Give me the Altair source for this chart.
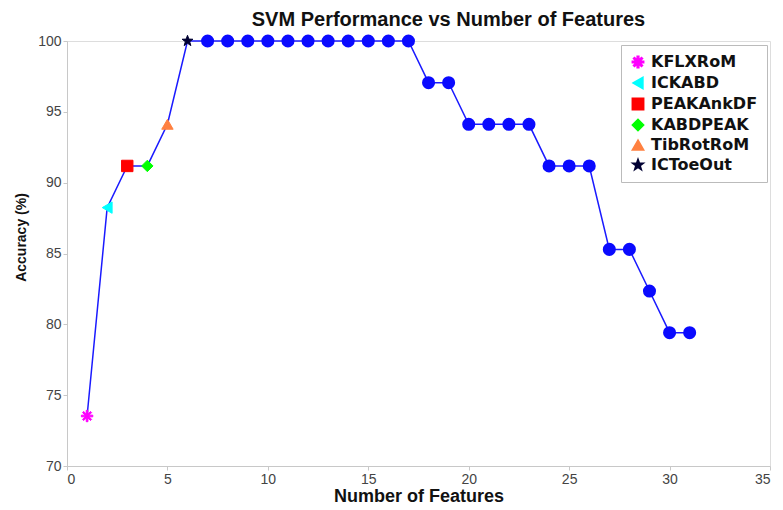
import altair as alt
import pandas as pd

features = list(range(1, 32))
accuracy = [73.53, 88.24, 91.18, 91.18, 94.12, 100.0,
            100.0, 100.0, 100.0, 100.0, 100.0, 100.0, 100.0, 100.0, 100.0, 100.0, 100.0,
            97.06, 97.06,
            94.12, 94.12, 94.12, 94.12,
            91.18, 91.18, 91.18,
            85.29, 85.29, 82.35, 79.41, 79.41]
feature_names = ["KFLXRoM", "ICKABD", "PEAKAnkDF", "KABDPEAK", "TibRotRoM", "ICToeOut"]
name_colors = ["#ff00ff", "#00ffff", "#ff0000", "#00ff00", "#ff8040", "#000033"]
asterisk = "M-1,-0.15L1,-0.15L1,0.15L-1,0.15Z M-0.15,-1L0.15,-1L0.15,1L-0.15,1Z M-0.8,-0.6L-0.6,-0.8L0.8,0.6L0.6,0.8Z M0.8,-0.6L0.6,-0.8L-0.8,0.6L-0.6,0.8Z"
name_shapes = [asterisk, "triangle-left", "square", "diamond", "triangle-up", "M0,-1L0.24,-0.33L0.95,-0.31L0.38,0.12L0.59,0.81L0,0.4L-0.59,0.81L-0.38,0.12L-0.95,-0.31L-0.24,-0.33Z"]

df = pd.DataFrame({"features": features, "accuracy": accuracy})
df_named = df.iloc[:len(feature_names)].copy()
df_named["name"] = feature_names
df_rest = df.iloc[len(feature_names):].copy()

font = "Liberation Sans"
xs = alt.Scale(domain=[0, 35], nice=False)
ys = alt.Scale(domain=[70, 100], nice=False)
x_axis = alt.Axis(values=list(range(0, 36, 5)), title="Number of Features", grid=False,
                  labelFontSize=14, labelColor="#444", titleFontSize=18, titleFontWeight="bold",
                  titleColor="#111", domainColor="#c8c8c8", tickColor="#c8c8c8", tickSize=4,
                  labelPadding=2, titlePadding=1, labelFont=font, titleFont=font)
y_axis = alt.Axis(values=list(range(70, 101, 5)), title="Accuracy (%)", grid=False,
                  labelFontSize=14, labelColor="#444", titleFontSize=14, titleFontWeight="bold",
                  titleColor="#111", domainColor="#c8c8c8", tickColor="#c8c8c8", tickSize=4,
                  labelPadding=2, titlePadding=9, titleY=196, labelFont=font, titleFont=font)

line = alt.Chart(df).mark_line(color="#1a1aff", strokeWidth=1.5).encode(
    x=alt.X("features:Q", scale=xs, axis=x_axis),
    y=alt.Y("accuracy:Q", scale=ys, axis=y_axis),
)
circles = alt.Chart(df_rest).mark_circle(color="#0a0aff", size=170, opacity=1).encode(
    x=alt.X("features:Q", scale=xs),
    y=alt.Y("accuracy:Q", scale=ys),
)
legend = alt.Legend(title=None, orient="none", legendX=554, legendY=4, labelFontSize=16,
                    labelFontWeight="bold", labelFont="DejaVu Sans", labelColor="#111",
                    strokeColor="#bbb", fillColor="white", padding=9, rowPadding=3,
                    symbolSize=130, labelLimit=200, labelOffset=5)
named = alt.Chart(df_named).mark_point(filled=True, size=130, opacity=1, strokeWidth=1).encode(
    x=alt.X("features:Q", scale=xs),
    y=alt.Y("accuracy:Q", scale=ys),
    fill=alt.Fill("name:N", scale=alt.Scale(domain=feature_names, range=name_colors), legend=legend, sort=feature_names),
    stroke=alt.Stroke("name:N", scale=alt.Scale(domain=feature_names, range=name_colors), legend=legend, sort=feature_names),
    shape=alt.Shape("name:N", scale=alt.Scale(domain=feature_names, range=name_shapes), legend=legend, sort=feature_names),
)

chart = alt.layer(line, circles, named).properties(
    width=703, height=425,
    title=alt.TitleParams("SVM Performance vs Number of Features", fontSize=20, fontWeight="bold",
                          font=font, color="#111", anchor="middle", dx=30, offset=3),
    autosize=alt.AutoSizeParams(type="none"),
    padding={"left": 59, "top": 33, "right": 5, "bottom": 44},
).configure_view(stroke=None).configure(background="white")

chart.save("out.html", embed_options={"renderer": "svg", "actions": False})
